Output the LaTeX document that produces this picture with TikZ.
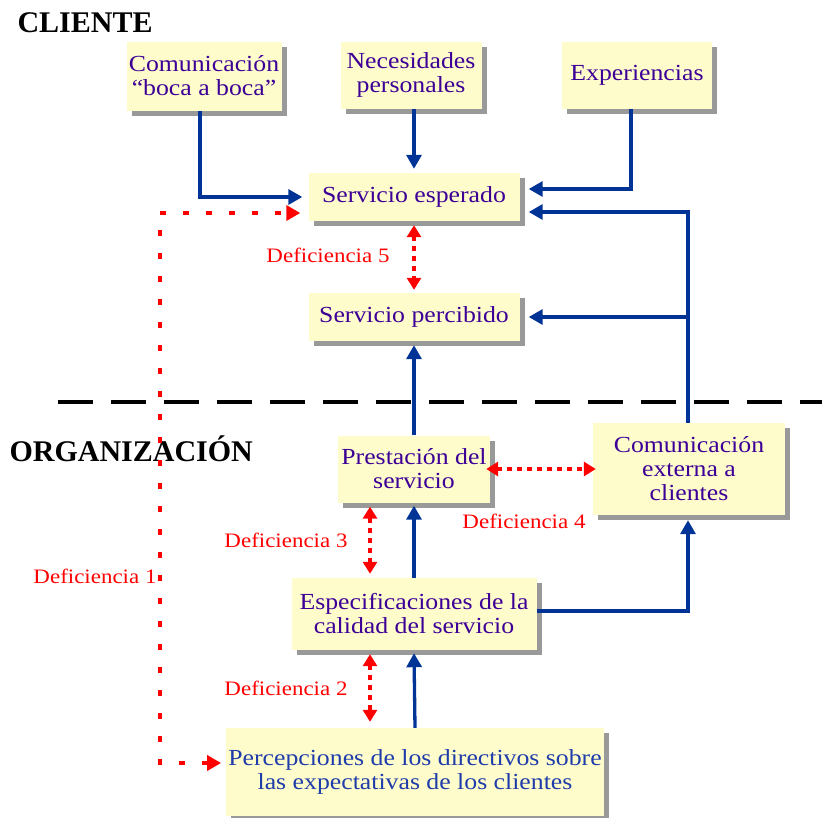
\documentclass[tikz,border=0pt]{standalone}
\usepackage{fontspec}
\setmainfont{Liberation Serif}
\newfontfamily\boxfont[FakeStretch=1.12]{Liberation Serif}
\usetikzlibrary{arrows.meta,shadows}
\definecolor{box text}{RGB}{60,0,150}
\definecolor{perc text}{RGB}{30,60,170}
\definecolor{flow}{RGB}{0,51,150}
\colorlet{box area}{yellow!20}
\colorlet{gap red}{red}
\tikzset{cuadro/.style={fill=box area, draw=none, align=center, inner sep=2pt,
		text=box text, font=\boxfont\fontsize{23}{24}\selectfont,
		drop shadow={shadow xshift=5pt, shadow yshift=-5pt, fill=gray!80, opacity=1}},
	flujo/.style={draw=flow, line width=3.3pt, -{Triangle[length=14pt,width=15pt]}},
	brecha/.style={draw=gap red, line width=4pt, dash pattern=on 5pt off 5pt,
		{Triangle[length=12pt,width=14pt]}-{Triangle[length=12pt,width=14pt]}},
	brecha larga/.style={draw=gap red, line width=4pt, dash pattern=on 6pt off 17pt,
		{Triangle[length=14pt,width=15pt]}-{Triangle[length=14pt,width=15pt]}},
	etiqueta/.style={text=gap red, font=\boxfont\fontsize{20.5}{22}\selectfont},
	titulo/.style={font=\bfseries\fontsize{30}{32}\selectfont, anchor=west}}

\begin{document}
\begin{tikzpicture}[x=1pt, y=-1pt]
		\useasboundingbox (0,0) rectangle (822,817);
		\node[titulo] at (14,23) {CLIENTE};
		\node[titulo] at (6,449) {ORGANIZACIÓN};
		\draw[line width=4pt, dash pattern=on 35pt off 18pt] (58,402) -- (822,402);
		
		% cliente
		\node[cuadro, minimum width=155, minimum height=69] (boca) at (204,76) {Comunicación\\ “boca a boca”};
		\node[cuadro, minimum width=141, minimum height=67] (necesidades) at (411,75) {Necesidades\\ personales};
		\node[cuadro, minimum width=150, minimum height=67] (experiencias) at (637,75) {Experiencias};
		\node[cuadro, minimum width=211, minimum height=48] (esperado) at (414,197) {Servicio esperado};
		\node[cuadro, minimum width=211, minimum height=48] (percibido) at (414,317) {Servicio percibido};
		
		% organizacion
		\node[cuadro, minimum width=152, minimum height=67] (prestacion) at (414,469) {Prestación del\\ servicio};
		\node[cuadro, minimum width=192, minimum height=92] (externa) at (689,469) {Comunicación\\ externa a\\ clientes};
		\node[cuadro, minimum width=245, minimum height=72] (especificaciones) at (414,614) {Especificaciones de la\\ calidad del servicio};
		\node[cuadro, minimum width=370, minimum height=88, text=perc text] (percepciones) at (415,772) {Percepciones de los directivos sobre\\ las expectativas de los clientes};
		
		\coordinate (rama) at (688,317);
		\draw[flujo] (boca.south -| 200,0) |- ([xshift=-6pt]esperado.west);
		\draw[flujo] (necesidades.south -| esperado.north) -- ([yshift=4pt]esperado.north);
		\draw[flujo] (experiencias.south -| 631,0) |- ([xshift=9pt, yshift=8pt]esperado.east);
		\draw[flujo] (externa.north -| rama) |- ([xshift=9pt, yshift=-15pt]esperado.east);
		\draw[flujo] (rama) -- ([xshift=9pt]percibido.east);
		\draw[flujo] (prestacion.north) -- ([yshift=-4pt]percibido.south);
		\draw[flujo] (especificaciones.north) -- ([yshift=-3pt]prestacion.south);
		\draw[flujo] (percepciones.north) -- ([yshift=-3pt]especificaciones.south);
		\draw[flujo] ([yshift=3pt]especificaciones.east) -| ([yshift=-5pt]externa.south -| rama);
		
		% deficiencias
		\draw[brecha] ([yshift=-4pt]esperado.south) -- ([yshift=3pt]percibido.north);
		\draw[brecha] ([shift={(-44pt,-4pt)}]prestacion.south) -- ([yshift=4pt]especificaciones.north -| 370,0);
		\draw[brecha] ([shift={(-44pt,-4pt)}]especificaciones.south) -- ([yshift=6pt]percepciones.north -| 370,0);
		\draw[brecha] ([xshift=-4pt]prestacion.east) -- ([xshift=3pt]externa.west);
		\draw[brecha larga]
			([xshift=-5pt]percepciones.west |- 0,763) -- (160,763) -- (160,213) -- ([xshift=-8pt, yshift=-16pt]esperado.west);
		
		\node[etiqueta] (def5) at (328,255) {Deficiencia 5};
		\node[etiqueta] (def4) at (524,521) {Deficiencia 4};
		\node[etiqueta] (def3) at (286,540) {Deficiencia 3};
		\node[etiqueta] (def1) at (95,576) {Deficiencia 1};
		\node[etiqueta] (def2) at (286,688) {Deficiencia 2};
		
		\end{tikzpicture}
\end{document}
